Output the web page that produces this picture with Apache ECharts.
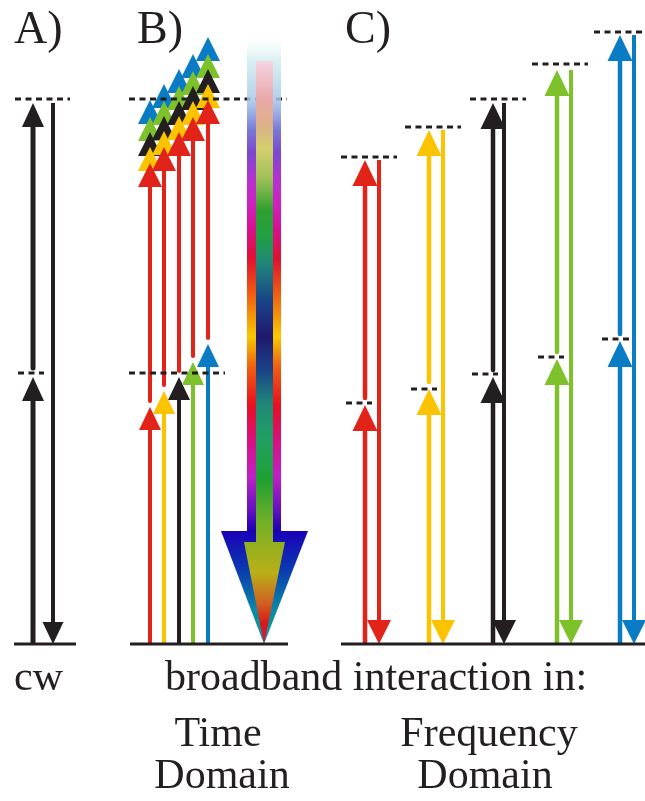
<!DOCTYPE html>
<html>
<head>
<meta charset="utf-8">
<script src="https://cdn.jsdelivr.net/npm/echarts@6/dist/echarts.min.js"></script>
<style>
html, body { margin: 0; padding: 0; background: #fff; }
#main { width: 645px; height: 801px; }
</style>
</head>
<body>
<div id="main"></div>
<script>
// colour index: 0 red, 1 yellow, 2 black, 3 green, 4 blue
const colourNames = ['red', 'yellow', 'black', 'green', 'blue'];

// levels are heights above the ground state (ground = 0)
// A) cw
const cwTips = [267, 541];
const cwLevels = [271, 545];

// B) time domain
const bFirstTips = [237, 253, 267, 282, 300];
const bTopRedTips = [481, 497, 512, 527, 544];
const bStackOffsets = [0, 16, 31, 46, 63];
const bLevels = [271, 545];

// C) frequency domain
const cLowerTips = [239, 255, 267, 285, 303];
const cUpperTips = [484, 514, 541, 574, 609];
const cLowerLevels = [241, 255, 270, 287, 305];
const cUpperLevels = [487, 517, 545, 580, 612];

// drawing layout (x positions in px, big arrow extents)
const palette = ['#e2231a', '#fbc300', '#231f20', '#7dc12b', '#0a7cc6'];
const layout = {
    aUp: 33, aDown: 53, aGround: [14, 76], aDash: [[18, 44], [15, 70]],
    bX: [150, 164, 179, 193, 208], bGround: [130, 288], bDash: [[129, 225], [129, 287]],
    big: { x: 264, top: 607, innerTop: 583, headBase: 113, innerHeadBase: 102 },
    cUp: [365, 429, 493, 557, 620], cDown: [379, 443, 504, 571, 634], cGround: [341, 645],
    cLowerDash: [[346, 372], [411, 437], [472, 498], [538, 564], [602, 630]],
    cUpperDash: [[341, 397], [405, 461], [470, 526], [532, 588], [594, 645]]
};

// [x, from, to, colour, roundCap, width]
let shafts = [];
// [x, tip, colour, dir(1 up / -1 down), w, h]
let heads = [];
// [x0, x1, level]
let dashes = [];
let grounds = [];

// A
shafts.push([layout.aUp, 0, cwTips[0] - 14, 2, 0, 5]);
shafts.push([layout.aUp, cwTips[0] + 9, cwTips[1] - 14, 2, 1, 5]);
shafts.push([layout.aDown, cwTips[1], 12, 2, 0, 4]);
heads.push([layout.aUp, cwTips[0], 2, 1, 22, 24]);
heads.push([layout.aUp, cwTips[1], 2, 1, 22, 24]);
heads.push([layout.aDown, 0, 2, -1, 21, 22]);
dashes.push([layout.aDash[0][0], layout.aDash[0][1], cwLevels[0]]);
dashes.push([layout.aDash[1][0], layout.aDash[1][1], cwLevels[1]]);
grounds.push([layout.aGround[0], layout.aGround[1], 0]);

// B
for (let i = 0; i < 5; i++) {
    shafts.push([layout.bX[i], 0, bFirstTips[i] - 14, i, 0, 4]);
    heads.push([layout.bX[i], bFirstTips[i], i, 1, 22, 23]);
    shafts.push([layout.bX[i], bFirstTips[i] + 6, bTopRedTips[i] - 14, 0, 1, 4]);
}
for (let i = 0; i < 5; i++) {
    for (let j = 4; j >= 0; j--) {
        heads.push([layout.bX[i], bTopRedTips[i] + bStackOffsets[j], j, 1, 24, 24]);
    }
}
dashes.push([layout.bDash[0][0], layout.bDash[0][1], bLevels[0]]);
dashes.push([layout.bDash[1][0], layout.bDash[1][1], bLevels[1]]);
grounds.push([layout.bGround[0], layout.bGround[1], 0]);

// C
for (let i = 0; i < 5; i++) {
    shafts.push([layout.cUp[i], 0, cLowerTips[i] - 14, i, 0, 4.5]);
    shafts.push([layout.cUp[i], cLowerTips[i] + 7, cUpperTips[i] - 14, i, 1, 4.5]);
    shafts.push([layout.cDown[i], cUpperTips[i], 12, i, 0, 4]);
    heads.push([layout.cUp[i], cLowerTips[i], i, 1, 25, 26]);
    heads.push([layout.cUp[i], cUpperTips[i], i, 1, 25, 26]);
    heads.push([layout.cDown[i], 0, i, -1, 24, 24]);
    dashes.push([layout.cLowerDash[i][0], layout.cLowerDash[i][1], cLowerLevels[i]]);
    dashes.push([layout.cUpperDash[i][0], layout.cUpperDash[i][1], cUpperLevels[i]]);
}
grounds.push([layout.cGround[0], layout.cGround[1], 0]);

function renderShaft(params, api) {
    const p0 = api.coord([api.value(0), api.value(1)]);
    const p1 = api.coord([api.value(0), api.value(2)]);
    return {
        type: 'line',
        shape: { x1: p0[0], y1: p0[1], x2: p1[0], y2: p1[1] },
        style: { stroke: palette[api.value(3)], lineWidth: api.value(5), lineCap: api.value(4) ? 'round' : 'butt' }
    };
}

function renderHead(params, api) {
    const t = api.coord([api.value(0), api.value(1)]);
    const dir = api.value(3), w = api.value(4) / 2, h = api.value(5);
    return {
        type: 'polygon',
        shape: { points: [[t[0], t[1]], [t[0] - w, t[1] + dir * h], [t[0] + w, t[1] + dir * h]] },
        style: { fill: palette[api.value(2)] }
    };
}

function lineRenderer(dashed) {
    return function (params, api) {
        const p0 = api.coord([api.value(0), api.value(2)]);
        const p1 = api.coord([api.value(1), api.value(2)]);
        return {
            type: 'line',
            shape: { x1: p0[0], y1: p0[1], x2: p1[0], y2: p1[1] },
            style: { stroke: '#231f20', lineWidth: 3, lineDash: dashed ? [6, 4.5] : null }
        };
    };
}

function stopsFrom(list, y0, y1) {
    return list.map(s => ({ offset: (s[0] - y0) / (y1 - y0), color: s[1] }));
}

// pixel rows of the colour stops in the reference
const outerStops = [
    [37, 'rgba(225,245,245,0)'], [60, 'rgba(205,235,238,0.75)'], [100, 'rgba(165,198,232,0.85)'],
    [130, '#7878d8'], [152, '#7a48d0'], [180, '#b830d0'], [205, '#d020c0'], [230, '#d8108a'],
    [258, '#e01030'], [292, '#f05a10'], [336, '#f8c800'], [366, '#f06010'], [404, '#e81020'],
    [440, '#d81080'], [476, '#c020c8'], [510, '#6010c0'], [531, '#1800b0']
];
const innerStops = [
    [61, 'rgba(248,208,224,0.9)'], [100, '#eaa8a8'], [125, '#dcb088'], [148, '#d4d070'],
    [178, '#a0c058'], [210, '#30a030'], [235, '#20a040'], [262, '#208878'], [300, '#1a4488'],
    [336, '#201870'], [370, '#1a4488'], [404, '#208878'], [440, '#20a060'], [480, '#20a030'],
    [520, '#70b028'], [542, '#90b020']
];

function renderBigArrow(params, api) {
    const x = api.value(0);
    const top = api.coord([x, api.value(1)]);
    const innerTop = api.coord([x, api.value(2)]);
    const base = api.coord([x, api.value(3)]);
    const innerBase = api.coord([x, api.value(4)]);
    const tip = api.coord([x, 0]);
    const cx = tip[0];
    const G = echarts.graphic.LinearGradient;
    return {
        type: 'group',
        children: [
            { type: 'rect', shape: { x: cx - 17, y: top[1], width: 34, height: base[1] - top[1] + 1 },
              style: { fill: new G(0, 0, 0, 1, stopsFrom(outerStops, top[1], base[1])) } },
            { type: 'polygon', shape: { points: [[cx - 43, base[1]], [cx + 44, base[1]], [cx, tip[1]]] },
              style: { fill: new G(0, 0, 0, 1, [
                  { offset: 0, color: '#1a00b8' }, { offset: 0.35, color: '#0a3cb0' },
                  { offset: 0.7, color: '#0a8aa8' }, { offset: 1, color: '#10a08a' }]) } },
            { type: 'rect', shape: { x: cx - 8, y: innerTop[1], width: 17, height: innerBase[1] - innerTop[1] + 1 },
              style: { fill: new G(0, 0, 0, 1, stopsFrom(innerStops, innerTop[1], innerBase[1])) } },
            { type: 'polygon', shape: { points: [[cx - 20, innerBase[1]], [cx + 21, innerBase[1]], [cx, tip[1]]] },
              style: { fill: new G(0, 0, 0, 1, [
                  { offset: 0, color: '#90b020' }, { offset: 0.3, color: '#b8b018' },
                  { offset: 0.6, color: '#d06020' }, { offset: 0.8, color: '#d81818' },
                  { offset: 1, color: '#e0105a' }]) } }
        ]
    };
}

const serifFont = 'Liberation Serif';
function label(text, x, top, size, align) {
    return {
        type: 'text', x: x, y: top,
        style: { text: text, fill: '#231f20', fontSize: size, fontFamily: serifFont, align: align || 'left', verticalAlign: 'top' }
    };
}

let myChart = echarts.init(document.getElementById('main'));
option = {
    animation: false,
    grid: { left: 0, right: 0, top: 0, bottom: 157 },
    xAxis: { type: 'value', min: 0, max: 645, show: false },
    yAxis: { type: 'value', min: 0, max: 644, show: false },
    graphic: [
        label('A)', 14, 8, 46),
        label('B)', 137, 8, 46),
        label('C)', 345, 8, 46),
        label('cw', 14, 658, 42),
        label('broadband interaction in:', 165, 658, 42),
        label('Time', 218, 714, 42, 'center'),
        label('Domain', 222, 756, 42, 'center'),
        label('Frequency', 489, 714, 42, 'center'),
        label('Domain', 485, 756, 42, 'center')
    ],
    series: [
        { type: 'custom', renderItem: renderShaft, data: shafts, silent: true },
        { type: 'custom', renderItem: renderHead, data: heads, silent: true },
        { type: 'custom', renderItem: lineRenderer(true), data: dashes, silent: true },
        { type: 'custom', renderItem: renderBigArrow, data: [[layout.big.x, layout.big.top, layout.big.innerTop, layout.big.headBase, layout.big.innerHeadBase]], silent: true },
        { type: 'custom', renderItem: lineRenderer(false), data: grounds, silent: true }
    ]
};
myChart.setOption(option);
</script>
</body>
</html>
